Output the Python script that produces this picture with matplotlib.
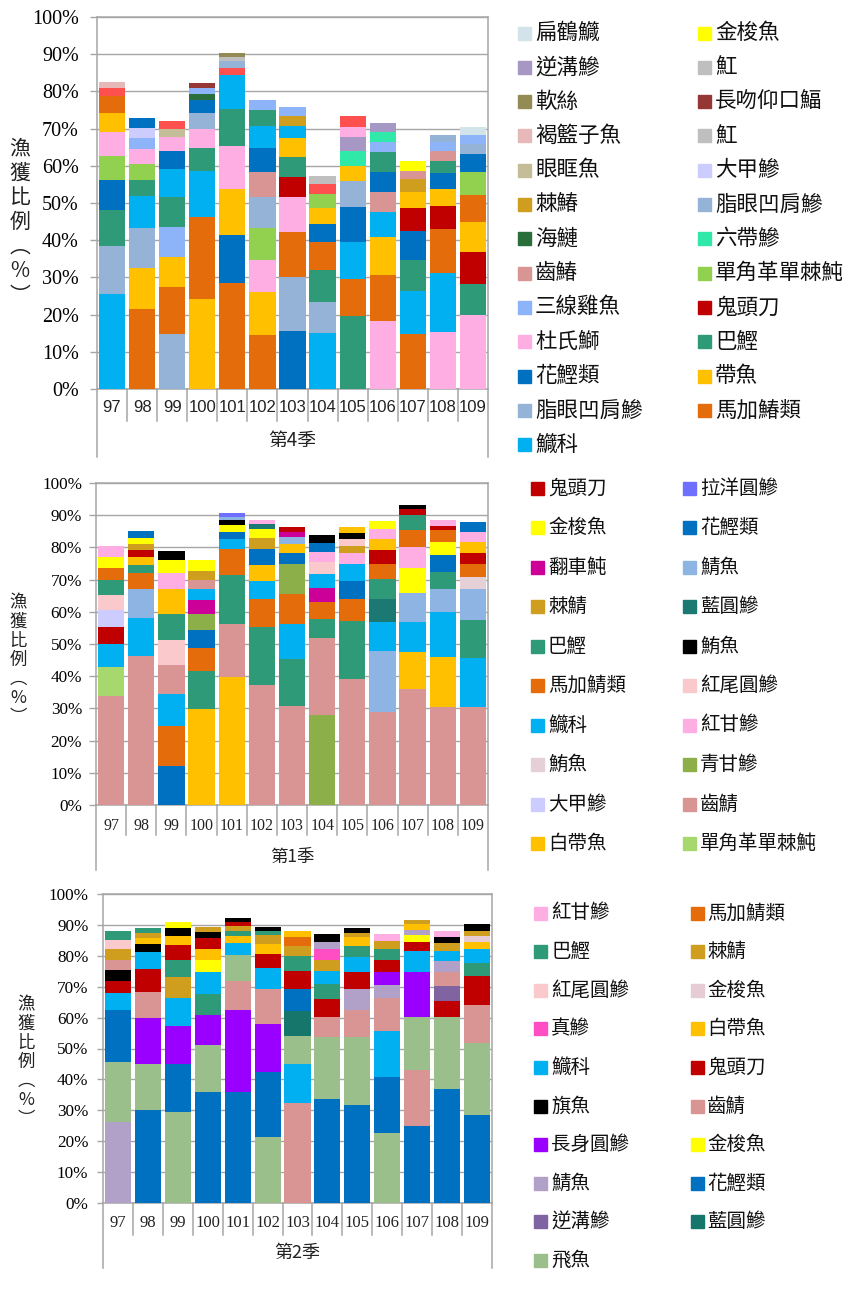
import matplotlib
matplotlib.use("Agg")
import matplotlib.pyplot as plt
import matplotlib.patches as mpatches
from matplotlib.lines import Line2D
import numpy as np

W, H = 854, 1290
CJK = ["Noto Sans CJK TC", "DejaVu Sans"]
SERIF = ["Liberation Serif", "DejaVu Serif"]
SANS = ["Liberation Sans", "DejaVu Sans"]
GREY = "#A6A6A6"
plt.rcParams["font.family"] = SERIF

years = ["97", "98", "99", "100", "101", "102", "103", "104", "105", "106", "107", "108", "109"]

# ---------------- 第4季 ----------------
q4_colors = {
    "扁鶴鱵": "#D2E4EA", "金梭魚": "#FFFF00", "逆溝鰺": "#A697C4", "魟": "#BFBFBF",
    "軟絲": "#948A54", "長吻仰口鰏": "#953735", "褐籃子魚": "#E6B9B8", "眼眶魚": "#C4BD97",
    "大甲鰺": "#CCCCFF", "棘鰆": "#D09E1F", "脂眼凹肩鰺": "#95B3D7", "海鰱": "#2A6E3C",
    "六帶鰺": "#30E8A8", "齒鰆": "#D99594", "單角革單棘魨": "#92D050", "三線雞魚": "#8DB4F8",
    "鬼頭刀": "#C00000", "杜氏鰤": "#FFAEE4", "巴鰹": "#2E9A78", "花鰹類": "#0070C0",
    "帶魚": "#FFC000", "馬加鰆類": "#E46C0A", "鱵科": "#00B0F0", "其他": "#FF5050",
}
q4_legend = ["扁鶴鱵", "金梭魚", "逆溝鰺", "魟", "軟絲", "長吻仰口鰏", "褐籃子魚", "魟",
             "眼眶魚", "大甲鰺", "棘鰆", "脂眼凹肩鰺", "海鰱", "六帶鰺", "齒鰆", "單角革單棘魨",
             "三線雞魚", "鬼頭刀", "杜氏鰤", "巴鰹", "花鰹類", "帶魚", "脂眼凹肩鰺", "馬加鰆類", "鱵科"]
q4_parts = [
    ["鱵科", "脂眼凹肩鰺", "巴鰹", "花鰹類", "單角革單棘魨", "杜氏鰤", "帶魚", "馬加鰆類", "其他", "褐籃子魚"],
    ["馬加鰆類", "帶魚", "脂眼凹肩鰺", "鱵科", "巴鰹", "單角革單棘魨", "杜氏鰤", "三線雞魚", "大甲鰺", "花鰹類"],
    ["脂眼凹肩鰺", "馬加鰆類", "帶魚", "三線雞魚", "巴鰹", "鱵科", "花鰹類", "杜氏鰤", "眼眶魚", "其他"],
    ["帶魚", "馬加鰆類", "鱵科", "巴鰹", "杜氏鰤", "脂眼凹肩鰺", "花鰹類", "海鰱", "三線雞魚", "長吻仰口鰏"],
    ["馬加鰆類", "花鰹類", "帶魚", "杜氏鰤", "巴鰹", "鱵科", "其他", "脂眼凹肩鰺", "魟", "軟絲"],
    ["馬加鰆類", "帶魚", "杜氏鰤", "單角革單棘魨", "脂眼凹肩鰺", "齒鰆", "花鰹類", "鱵科", "巴鰹", "三線雞魚"],
    ["花鰹類", "脂眼凹肩鰺", "馬加鰆類", "杜氏鰤", "鬼頭刀", "巴鰹", "帶魚", "鱵科", "棘鰆", "三線雞魚"],
    ["鱵科", "脂眼凹肩鰺", "巴鰹", "馬加鰆類", "花鰹類", "帶魚", "單角革單棘魨", "其他", "魟"],
    ["巴鰹", "馬加鰆類", "鱵科", "花鰹類", "脂眼凹肩鰺", "帶魚", "六帶鰺", "逆溝鰺", "杜氏鰤", "其他"],
    ["杜氏鰤", "馬加鰆類", "帶魚", "鱵科", "齒鰆", "花鰹類", "巴鰹", "三線雞魚", "六帶鰺", "逆溝鰺"],
    ["馬加鰆類", "鱵科", "巴鰹", "花鰹類", "鬼頭刀", "帶魚", "棘鰆", "齒鰆", "金梭魚"],
    ["杜氏鰤", "鱵科", "馬加鰆類", "鬼頭刀", "帶魚", "花鰹類", "巴鰹", "齒鰆", "三線雞魚", "脂眼凹肩鰺"],
    ["杜氏鰤", "巴鰹", "鬼頭刀", "帶魚", "馬加鰆類", "單角革單棘魨", "花鰹類", "脂眼凹肩鰺", "三線雞魚", "扁鶴鱵"],
]
q4_pct = [
    [25.6, 12.9, 9.6, 8.0, 6.5, 6.6, 5.0, 4.6, 2.0, 1.8],
    [21.5, 11.0, 10.7, 8.7, 4.3, 4.4, 4.0, 2.9, 2.7, 2.7],
    [14.9, 12.4, 8.3, 8.0, 7.9, 7.6, 4.9, 3.7, 2.1, 2.2],
    [24.2, 22.1, 12.4, 6.0, 5.1, 4.4, 3.4, 1.7, 1.5, 1.5],
    [28.4, 12.9, 12.4, 11.5, 10.0, 9.1, 1.9, 2.0, 1.1, 0.9],
    [14.4, 11.6, 8.8, 8.6, 8.3, 6.5, 6.6, 5.9, 4.3, 2.6],
    [15.5, 14.5, 12.3, 9.2, 5.6, 5.3, 5.2, 3.1, 2.6, 2.5],
    [15.0, 8.5, 8.5, 7.6, 4.7, 4.3, 3.8, 2.7, 2.2],
    [19.5, 10.0, 9.9, 9.6, 6.9, 4.1, 4.0, 3.8, 2.7, 2.8],
    [18.4, 12.3, 10.1, 6.8, 5.4, 5.4, 5.4, 2.7, 2.6, 2.5],
    [14.8, 11.6, 8.3, 7.9, 6.0, 4.4, 3.4, 2.3, 2.6],
    [15.3, 16.0, 11.6, 6.4, 4.4, 4.3, 3.4, 2.6, 2.3, 1.9],
    [19.9, 8.4, 8.5, 8.2, 7.1, 6.1, 4.9, 2.7, 2.5, 2.2],
]

# ---------------- 第1季 ----------------
q1_colors = {
    "鬼頭刀": "#C00000", "拉洋圓鰺": "#6F6FFF", "金梭魚": "#FFFF00", "花鰹類": "#0070C0",
    "翻車魨": "#CC0099", "鯖魚": "#8EB4E3", "棘鯖": "#D09E1F", "藍圓鰺": "#1C7873",
    "巴鰹": "#2E9A78", "鮪魚": "#000000", "馬加鯖類": "#E46C0A", "紅尾圓鰺": "#F9C9CC",
    "鱵科": "#00B0F0", "紅甘鰺": "#FFAEE4", "鮪魚2": "#E6D0D8", "青甘鰺": "#8CAF4A",
    "大甲鰺": "#CCCCFF", "齒鯖": "#D99594", "白帶魚": "#FFC000", "單角革單棘魨": "#A6D86E",
}
q1_legend = ["鬼頭刀", "拉洋圓鰺", "金梭魚", "花鰹類", "翻車魨", "鯖魚", "棘鯖", "藍圓鰺",
             "巴鰹", "鮪魚", "馬加鯖類", "紅尾圓鰺", "鱵科", "紅甘鰺", "鮪魚2", "青甘鰺",
             "大甲鰺", "齒鯖", "白帶魚", "單角革單棘魨"]
q1_parts = [
    ["齒鯖", "單角革單棘魨", "鱵科", "鬼頭刀", "大甲鰺", "紅尾圓鰺", "巴鰹", "馬加鯖類", "金梭魚", "紅甘鰺"],
    ["齒鯖", "鱵科", "鯖魚", "馬加鯖類", "巴鰹", "白帶魚", "鬼頭刀", "棘鯖", "金梭魚", "花鰹類"],
    ["花鰹類", "馬加鯖類", "鱵科", "齒鯖", "紅尾圓鰺", "巴鰹", "白帶魚", "紅甘鰺", "金梭魚", "鮪魚"],
    ["白帶魚", "巴鰹", "馬加鯖類", "花鰹類", "青甘鰺", "翻車魨", "鱵科", "齒鯖", "棘鯖", "金梭魚"],
    ["白帶魚", "齒鯖", "巴鰹", "馬加鯖類", "鱵科", "花鰹類", "金梭魚", "鮪魚", "鯖魚", "拉洋圓鰺"],
    ["齒鯖", "巴鰹", "馬加鯖類", "鱵科", "白帶魚", "花鰹類", "棘鯖", "金梭魚", "藍圓鰺", "紅甘鰺"],
    ["齒鯖", "巴鰹", "鱵科", "馬加鯖類", "青甘鰺", "花鰹類", "白帶魚", "鯖魚", "翻車魨", "鬼頭刀"],
    ["青甘鰺", "齒鯖", "巴鰹", "馬加鯖類", "翻車魨", "鱵科", "紅尾圓鰺", "紅甘鰺", "花鰹類", "鮪魚"],
    ["齒鯖", "巴鰹", "馬加鯖類", "花鰹類", "鱵科", "紅甘鰺", "棘鯖", "紅尾圓鰺", "鮪魚", "白帶魚"],
    ["齒鯖", "鯖魚", "鱵科", "藍圓鰺", "巴鰹", "馬加鯖類", "鬼頭刀", "白帶魚", "紅甘鰺", "金梭魚"],
    ["齒鯖", "白帶魚", "鱵科", "鯖魚", "金梭魚", "紅甘鰺", "馬加鯖類", "巴鰹", "鬼頭刀", "鮪魚"],
    ["齒鯖", "白帶魚", "鱵科", "鯖魚", "巴鰹", "花鰹類", "金梭魚", "馬加鯖類", "鬼頭刀", "紅甘鰺"],
    ["齒鯖", "鱵科", "巴鰹", "鯖魚", "鮪魚2", "馬加鯖類", "鬼頭刀", "白帶魚", "紅甘鰺", "花鰹類"],
]
q1_pct = [
    [33.9, 9.1, 7.1, 5.3, 5.2, 4.6, 4.7, 3.8, 3.3, 3.5],
    [46.3, 11.9, 9.0, 4.8, 2.6, 2.4, 2.1, 2.0, 1.8, 2.3],
    [12.2, 12.2, 10.0, 9.1, 7.8, 8.1, 7.6, 5.0, 4.0, 2.8],
    [29.8, 11.7, 7.4, 5.5, 5.0, 4.3, 3.3, 2.9, 2.9, 3.4],
    [39.7, 16.6, 15.1, 8.1, 3.1, 2.3, 2.1, 1.4, 1.0, 1.3],
    [37.3, 17.9, 8.8, 5.6, 5.0, 5.0, 3.3, 2.8, 1.7, 1.2],
    [30.6, 14.8, 10.8, 9.3, 9.3, 3.6, 2.7, 2.0, 1.6, 1.5],
    [28.0, 24.0, 5.8, 5.3, 4.3, 4.3, 3.8, 3.2, 2.6, 2.5],
    [39.1, 18.1, 6.7, 5.8, 5.2, 3.5, 2.1, 2.1, 1.9, 1.8],
    [28.8, 19.1, 8.9, 7.2, 6.2, 4.7, 4.2, 3.6, 3.0, 2.4],
    [36.0, 11.4, 9.4, 9.0, 7.7, 6.6, 5.4, 4.7, 1.7, 1.3],
    [30.4, 15.7, 13.9, 7.0, 5.5, 5.1, 4.2, 3.5, 1.4, 1.7],
    [30.4, 15.1, 12.1, 9.6, 3.6, 4.0, 3.6, 3.2, 3.3, 3.0],
]

# ---------------- 第2季 ----------------
q2_colors = {
    "紅甘鰺": "#FFAEE4", "馬加鯖類": "#E46C0A", "巴鰹": "#2E9A78", "棘鯖": "#D09E1F",
    "紅尾圓鰺": "#F9C9CC", "金梭魚": "#E6CDD5", "真鰺": "#FF4DC4", "白帶魚": "#FFC000",
    "鱵科": "#00B0F0", "鬼頭刀": "#C00000", "旗魚": "#000000", "齒鯖": "#D99594",
    "長身圓鰺": "#9900FF", "金梭魚2": "#FFFF00", "鯖魚": "#B1A0C7", "花鰹類": "#0070C0",
    "逆溝鰺": "#8064A2", "藍圓鰺": "#17766B", "飛魚": "#9BBF8B",
}
q2_legend = ["紅甘鰺", "馬加鯖類", "巴鰹", "棘鯖", "紅尾圓鰺", "金梭魚", "真鰺", "白帶魚",
             "鱵科", "鬼頭刀", "旗魚", "齒鯖", "長身圓鰺", "金梭魚2", "鯖魚", "花鰹類",
             "逆溝鰺", "藍圓鰺", "飛魚"]
q2_parts = [
    ["鯖魚", "飛魚", "花鰹類", "鱵科", "鬼頭刀", "旗魚", "齒鯖", "棘鯖", "紅尾圓鰺", "巴鰹"],
    ["花鰹類", "飛魚", "長身圓鰺", "齒鯖", "鬼頭刀", "鱵科", "旗魚", "白帶魚", "棘鯖", "巴鰹"],
    ["飛魚", "花鰹類", "長身圓鰺", "鱵科", "棘鯖", "巴鰹", "鬼頭刀", "白帶魚", "旗魚", "金梭魚2"],
    ["花鰹類", "飛魚", "長身圓鰺", "巴鰹", "鱵科", "金梭魚2", "白帶魚", "鬼頭刀", "旗魚", "棘鯖"],
    ["花鰹類", "長身圓鰺", "齒鯖", "飛魚", "鱵科", "白帶魚", "巴鰹", "棘鯖", "鬼頭刀", "旗魚"],
    ["飛魚", "花鰹類", "長身圓鰺", "齒鯖", "鱵科", "鬼頭刀", "白帶魚", "棘鯖", "巴鰹", "旗魚"],
    ["齒鯖", "鱵科", "飛魚", "藍圓鰺", "花鰹類", "鬼頭刀", "巴鰹", "棘鯖", "馬加鯖類", "白帶魚"],
    ["花鰹類", "飛魚", "齒鯖", "鬼頭刀", "巴鰹", "鱵科", "棘鯖", "真鰺", "鯖魚", "旗魚"],
    ["花鰹類", "飛魚", "齒鯖", "鯖魚", "鬼頭刀", "鱵科", "巴鰹", "白帶魚", "棘鯖", "旗魚"],
    ["飛魚", "花鰹類", "鱵科", "齒鯖", "鯖魚", "長身圓鰺", "鬼頭刀", "巴鰹", "棘鯖", "紅甘鰺"],
    ["花鰹類", "齒鯖", "飛魚", "長身圓鰺", "鱵科", "鬼頭刀", "金梭魚2", "鯖魚", "白帶魚", "棘鯖"],
    ["花鰹類", "飛魚", "鬼頭刀", "逆溝鰺", "齒鯖", "鯖魚", "鱵科", "棘鯖", "旗魚", "紅甘鰺"],
    ["花鰹類", "飛魚", "齒鯖", "鬼頭刀", "巴鰹", "鱵科", "白帶魚", "金梭魚", "棘鯖", "旗魚"],
]
q2_pct = [
    [26.2, 19.5, 16.6, 5.8, 3.9, 3.4, 3.3, 3.5, 2.9, 2.9],
    [30.0, 15.0, 15.0, 8.3, 7.3, 5.7, 2.5, 1.8, 1.7, 1.8],
    [29.3, 15.7, 12.3, 9.1, 6.9, 5.4, 4.7, 3.0, 2.5, 1.9],
    [36.0, 15.1, 9.6, 7.0, 6.9, 4.1, 3.6, 3.3, 2.0, 1.8],
    [35.8, 26.5, 9.7, 8.4, 3.7, 2.3, 1.7, 1.6, 1.4, 1.2],
    [21.3, 21.0, 15.6, 11.4, 6.8, 4.5, 3.2, 2.9, 1.4, 1.2],
    [32.3, 12.6, 9.0, 8.3, 7.0, 5.8, 5.0, 3.2, 2.8, 2.1],
    [33.6, 20.1, 6.6, 5.6, 5.0, 4.1, 3.7, 3.4, 2.5, 2.4],
    [31.7, 22.0, 8.6, 7.1, 5.5, 4.8, 3.5, 3.0, 1.1, 1.7],
    [22.6, 18.1, 15.1, 10.4, 4.3, 4.2, 4.0, 3.6, 2.4, 2.3],
    [24.8, 18.3, 17.0, 14.5, 6.8, 3.0, 2.2, 1.8, 1.8, 1.4],
    [37.0, 23.3, 5.2, 4.8, 4.3, 3.6, 3.2, 2.7, 2.1, 1.9],
    [28.4, 23.5, 12.2, 9.4, 4.3, 4.3, 2.4, 1.9, 1.7, 2.1],
]


def fx(x):
    return x / W


def fy(y):
    return 1 - y / H


def vline(fig, x, y0, y1):
    fig.add_artist(Line2D([fx(x), fx(x)], [fy(y0), fy(y1)], color=GREY, lw=1.1))


def panel(fig, box, parts, pct, colors, legend, season, p):
    left, top, right, bottom = box
    ax = fig.add_axes([fx(left), fy(bottom), fx(right - left), (bottom - top) / H])
    for i, (names, vals) in enumerate(zip(parts, pct)):
        base = 0
        for n, v in zip(names, vals):
            ax.bar(i, v, bottom=base, width=0.87, color=colors[n], linewidth=0, zorder=3)
            base += v
    ax.set_xlim(-0.5, len(years) - 0.5)
    ax.set_ylim(0, 100)
    ax.set_yticks(np.arange(0, 101, 10))
    ax.set_yticklabels([f"{v}%" for v in range(0, 101, 10)])
    for t in ax.get_yticklabels():
        t.set_fontfamily(SERIF)
        t.set_fontsize(p["ytick_fs"])
    ax.set_xticks([])
    ax.tick_params(axis="y", length=p["tick_len"], color=GREY, pad=p["pad"], width=1,
                   labelsize=p["ytick_fs"])
    ax.yaxis.grid(True, color=GREY, lw=1)
    ax.set_axisbelow(True)
    for s in ax.spines.values():
        s.set_color(GREY)
        s.set_linewidth(1.1)

    # category labels and separators
    step = (right - left) / len(years)
    for i, yr in enumerate(years):
        fig.text(fx(left + (i + 0.5) * step), fy(p["cat_y"]), yr, family=p["cat_family"],
                 fontsize=p["cat_fs"], ha="center", va="center", color="#222222")
    for k in range(1, len(years)):
        vline(fig, left + k * step, bottom, p["sep_end"])
    vline(fig, left, bottom, p["frame_end"])
    vline(fig, right, bottom, p["frame_end"])
    fig.text(fx((left + right) / 2), fy(p["season_y"]), season, family=CJK,
             fontsize=p["season_fs"], ha="center", va="center", color="#222222")

    # vertical y-axis title
    fig.text(fx(p["ylab_x"]), fy(p["ylab_y"]), "\n".join("漁獲比例︵%︶"), family=CJK,
             fontsize=p["ylab_fs"], ha="center", va="center", linespacing=p["ylab_ls"],
             color="#222222")

    # legend, two columns, row-major
    for i, key in enumerate(legend):
        r, c = divmod(i, 2)
        y = p["leg_y0"] + r * p["leg_dy"]
        fig.add_artist(mpatches.Rectangle((fx(p["sw_x"][c]), fy(y + 6.5)), 13 / W, 13 / H,
                                          color=colors[key], transform=fig.transFigure))
        fig.text(fx(p["tx_x"][c]), fy(y), key.rstrip("2"), family=CJK, fontsize=p["leg_fs"],
                 ha="left", va="center", color="#111111")
    return ax


fig = plt.figure(figsize=(W / 100, H / 100), dpi=100)

panel(fig, (97, 17, 488, 389), q4_parts, q4_pct, q4_colors, q4_legend, "第4季",
      dict(ytick_fs=14.5, tick_len=5, pad=8, cat_y=408, cat_family=SANS, cat_fs=12,
           sep_end=421, frame_end=457, season_y=440, season_fs=13.5,
           ylab_x=20, ylab_y=222, ylab_fs=15, ylab_ls=1.15,
           leg_y0=33, leg_dy=34.3, sw_x=(518, 698), tx_x=(535, 715), leg_fs=15.5))

panel(fig, (96, 483, 488, 805), q1_parts, q1_pct, q1_colors, q1_legend, "第1季",
      dict(ytick_fs=12.3, tick_len=5, pad=5, cat_y=826, cat_family=SERIF, cat_fs=11.5,
           sep_end=835, frame_end=870, season_y=857, season_fs=12.5,
           ylab_x=18, ylab_y=660, ylab_fs=12.5, ylab_ls=1.08,
           leg_y0=488, leg_dy=39.5, sw_x=(531, 683), tx_x=(548, 700), leg_fs=14))

panel(fig, (103, 894, 492, 1203), q2_parts, q2_pct, q2_colors, q2_legend, "第2季",
      dict(ytick_fs=12.3, tick_len=4.5, pad=6, cat_y=1223, cat_family=SERIF, cat_fs=12,
           sep_end=1235, frame_end=1268, season_y=1253, season_fs=13,
           ylab_x=26, ylab_y=1062, ylab_fs=12.5, ylab_ls=1.08,
           leg_y0=913, leg_dy=38.6, sw_x=(534, 691), tx_x=(551, 707), leg_fs=14))

fig.savefig("out.png", dpi=100, facecolor="white")
